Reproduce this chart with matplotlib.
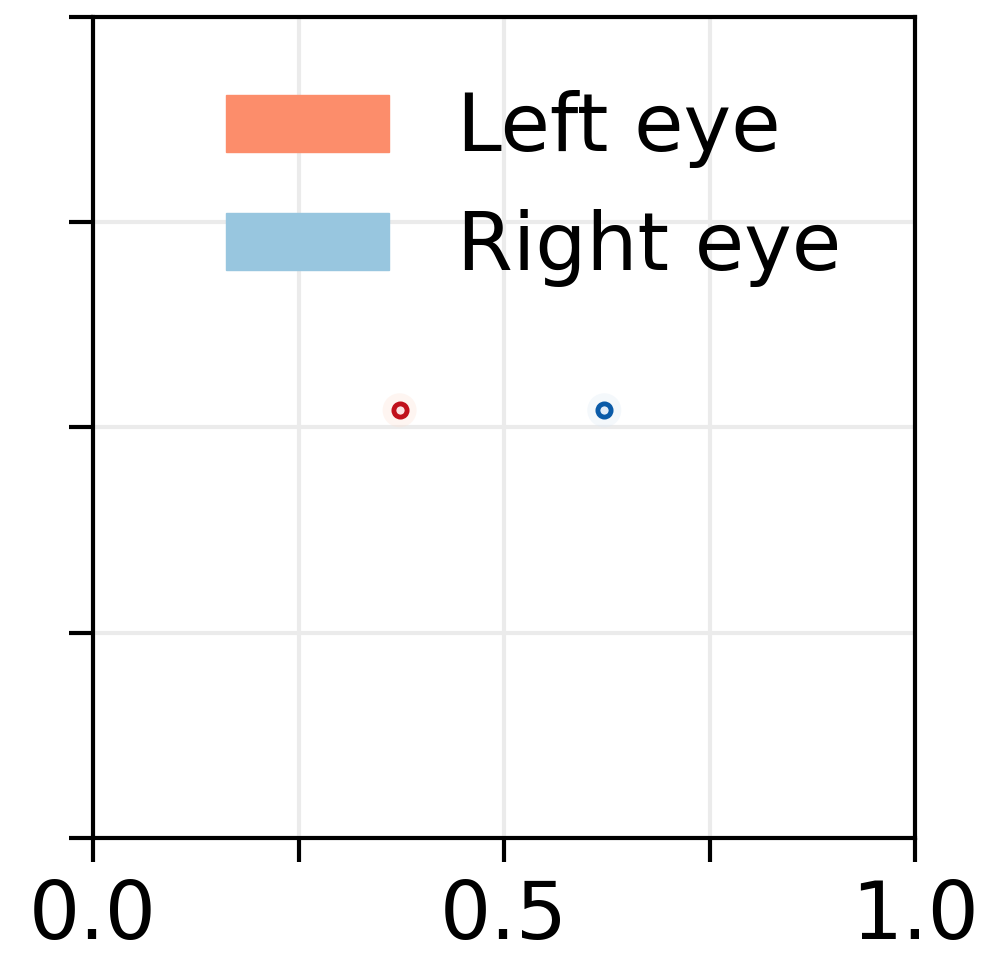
import matplotlib
matplotlib.use("Agg")
import matplotlib.pyplot as plt
from matplotlib.patches import Patch

labels = ["Left eye", "Right eye"]
gaze_x = [0.373, 0.622]
gaze_y = [0.521, 0.521]
edge_colors = ["#c0111c", "#0b5ba8"]
center_colors = ["#fbe3e3", "#e3edf8"]
halo_colors = ["#fde0d2", "#dbe8f5"]
legend_colors = ["#fc8d6b", "#98c6df"]
xticks = [0.0, 0.25, 0.5, 0.75, 1.0]
xticklabels = ["0.0", "", "0.5", "", "1.0"]
yticks = [0.0, 0.25, 0.5, 0.75, 1.0]

fig = plt.figure(figsize=(9.83, 9.55), dpi=100)
ax = fig.add_axes([93/983, 1-838/955, 822/983, 821/955])
ax.set_xlim(0, 1)
ax.set_ylim(0, 1)

for x, y, ec, cc, hc in zip(gaze_x, gaze_y, edge_colors, center_colors, halo_colors):
    ax.scatter([x], [y], s=600, color=hc, alpha=0.3, edgecolors="none", zorder=2)
    ax.scatter([x], [y], s=90, facecolor=cc, edgecolors=ec, linewidths=3.5, zorder=3)

ax.set_xticks(xticks)
ax.set_xticklabels(xticklabels)
ax.set_yticks(yticks)
ax.set_yticklabels([])
ax.grid(True, color="#ebebeb", linewidth=3)
ax.set_axisbelow(True)
for s in ax.spines.values():
    s.set_linewidth(3)
    s.set_color("black")
ax.tick_params(axis="both", length=17, width=3, labelsize=58, pad=12)

handles = [Patch(color=c, label=l) for c, l in zip(legend_colors, labels)]
leg = ax.legend(handles=handles, loc="upper right", frameon=False, fontsize=58,
                handlelength=2.02, handleheight=0.71, handletextpad=0.85,
                labelspacing=0.5, borderaxespad=0.51)

fig.savefig("out.png", dpi=100)
